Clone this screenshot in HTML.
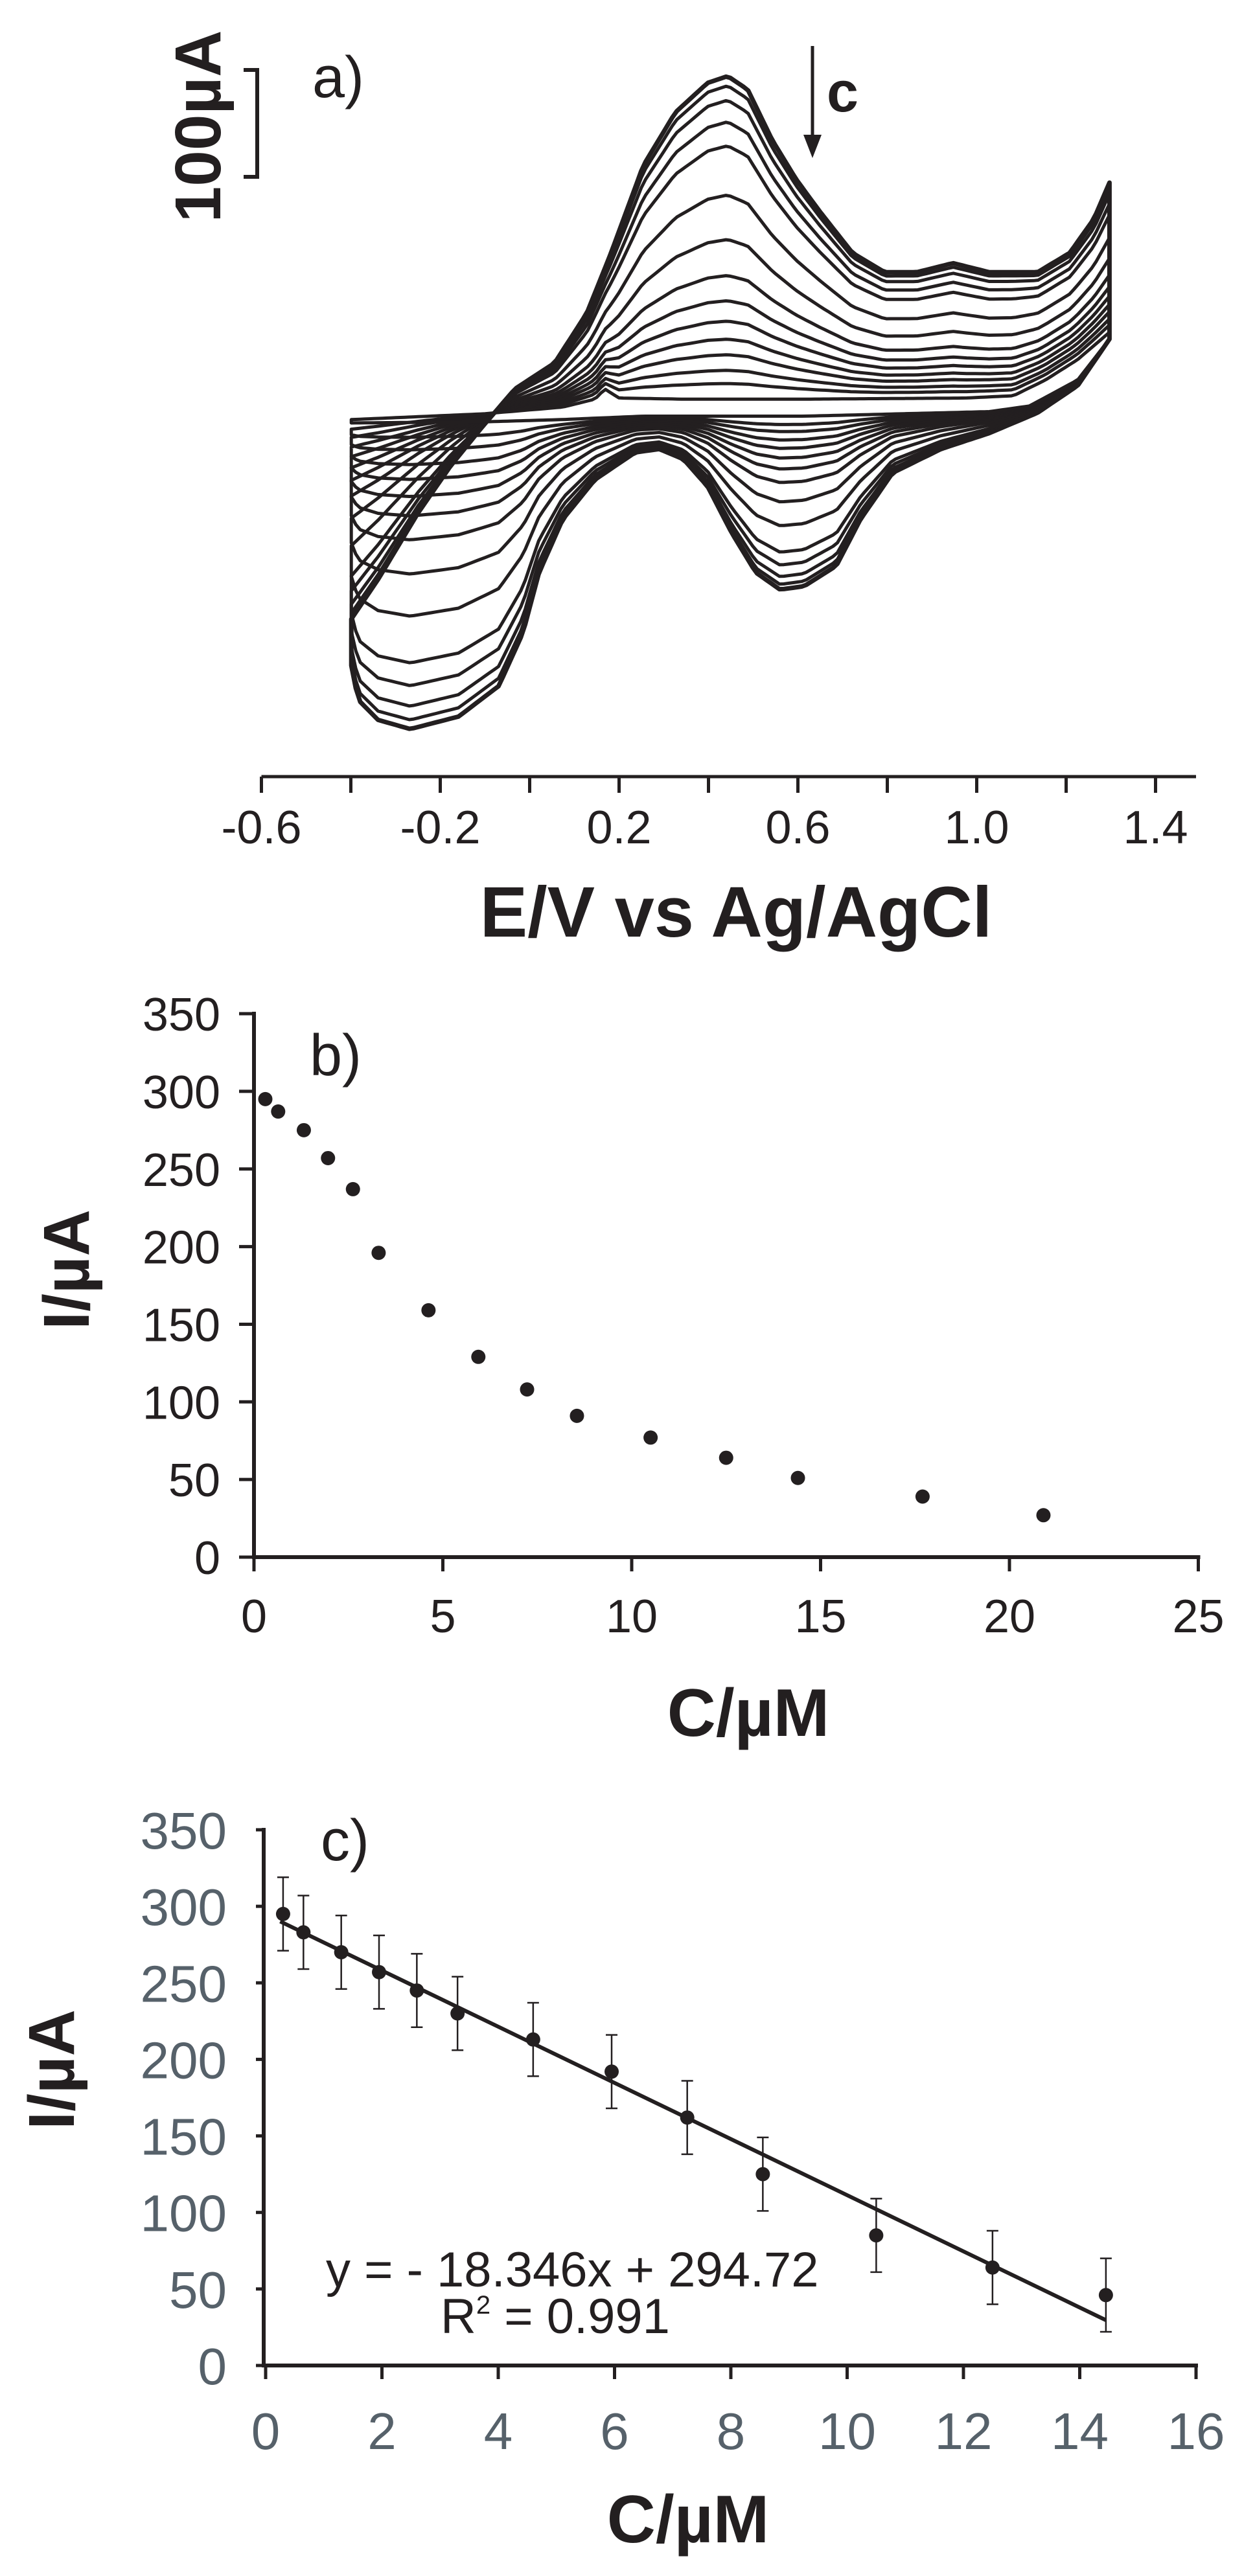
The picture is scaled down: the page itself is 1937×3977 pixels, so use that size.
<!DOCTYPE html>
<html><head><meta charset="utf-8"><style>
html,body{margin:0;padding:0;background:#fff;}
svg{display:block;}
text{font-family:"Liberation Sans",Arial,sans-serif;}
</style></head><body>
<svg id="fig" xmlns="http://www.w3.org/2000/svg" width="1937" height="3977" viewBox="0 0 1937 3977">
  <!-- Panel a static -->
  <g id="panelA">
    <g stroke="#231f20" stroke-width="6" fill="none">
      <path d="M376 108 H397 V273 H376"/>
    </g>
    <text x="340" y="195" font-size="100" font-weight="bold" text-anchor="middle" transform="rotate(-90 340 195)" fill="#231f20">100µA</text>
    <text x="482" y="150" font-size="90" fill="#231f20">a)</text>
    <g>
      <line x1="1254" y1="71" x2="1254" y2="215" stroke="#231f20" stroke-width="5"/>
      <path d="M1240 208 L1268 208 L1254 244 Z" fill="#231f20"/>
    </g>
    <text x="1276" y="172" font-size="88" font-weight="bold" fill="#231f20">c</text>
    <text x="1136" y="1446" font-size="110" font-weight="bold" text-anchor="middle" fill="#231f20">E/V vs Ag/AgCl</text>
  </g>
  <g id="panelB">
    <text x="478" y="1660" font-size="90" fill="#231f20">b)</text>
    <text x="137" y="1960" font-size="100" font-weight="bold" text-anchor="middle" transform="rotate(-90 137 1960)" fill="#231f20">I/µA</text>
    <text x="1155" y="2680" font-size="104" font-weight="bold" text-anchor="middle" fill="#231f20">C/µM</text>
  </g>
  <g id="panelC">
    <text x="495" y="2872" font-size="90" fill="#231f20">c)</text>
    <text x="114" y="3195" font-size="100" font-weight="bold" text-anchor="middle" transform="rotate(-90 114 3195)" fill="#231f20">I/µA</text>
    <text x="1062" y="3925" font-size="104" font-weight="bold" text-anchor="middle" fill="#231f20">C/µM</text>
    <text x="503" y="3530" font-size="76" fill="#231f20">y = - 18.346x + 294.72</text>
    <text x="680" y="3602" font-size="76" fill="#231f20">R<tspan font-size="40" dy="-30">2</tspan><tspan dy="30"> = 0.991</tspan></text>
  </g>
</svg>
<script>
// ---------- Panel a data ----------
const cvTopOuterE = [-0.399,-0.339,-0.249,-0.177,-0.105,-0.033,0.056,0.128,0.182,0.254,0.326,0.398,0.443,0.488,0.542,0.596,0.650,0.722,0.794,0.866,0.947,1.028,1.136,1.208,1.262,1.297];
const cvTopOuterI = [-185,-150,-91,-50,-15,18,41,85,138,215,262,288,294,282,238,203,174,138,121,121,129,121,121,138,168,200];
const cvBotOuterE = [1.297,1.226,1.136,1.028,0.920,0.812,0.740,0.686,0.614,0.560,0.506,0.452,0.398,0.344,0.290,0.236,0.146,0.074,0.021,-0.015,-0.069,-0.159,-0.267,-0.339,-0.384,-0.399];
const cvBotOuterI = [62,21,-3,-21,-35,-56,-97,-138,-156,-159,-144,-109,-68,-44,-35,-38,-62,-97,-144,-197,-244,-271,-282,-274,-256,-226];
const cvTopInnerE = [-0.399,-0.105,0.074,0.146,0.168,0.200,0.344,0.614,0.974,1.082,1.154,1.226,1.297];
const cvTopInnerI = [-9,-4,2,9,18,10,9,9,10,12,26,44,68];
const cvBotInnerE = [1.297,1.226,1.118,1.028,0.614,0.254,0.074,-0.105,-0.399];
const cvBotInnerI = [62,26,3,-2,-6,-6,-9,-11,-12];
const cvPeakCurrents = [295,287,275,257,237,196,159,129,108,91,76,63,50,39,26];
const cvTicks = [-0.6,-0.4,-0.2,0,0.2,0.4,0.6,0.8,1.0,1.2,1.4];
const cvTickLabels = ["-0.6","-0.2","0.2","0.6","1.0","1.4"];
const cvTickLabelValues = [-0.6,-0.2,0.2,0.6,1.0,1.4];

// ---------- Panel b data ----------
const bConc = [0.3,0.64,1.32,1.96,2.62,3.3,4.62,5.94,7.23,8.55,10.5,12.5,14.4,17.7,20.9];
const bCurrent = [295,287,275,257,237,196,159,129,108,91,77,64,51,39,27];
const bYTicks = [0,50,100,150,200,250,300,350];
const bXTicks = [0,5,10,15,20,25];

// ---------- Panel c data ----------
const cConc = [0.3,0.65,1.3,1.95,2.6,3.3,4.6,5.95,7.25,8.55,10.5,12.5,14.45];
const cCurrent = [295,283,270,257,245,230,213,192,162,125,85,64,46];
const cError = [24,24,24,24,24,24,24,24,24,24,24,24,24];
const cSlope = -18.346;
const cIntercept = 294.72;
const cYTicks = [0,50,100,150,200,250,300,350];
const cXTicks = [0,2,4,6,8,10,12,14,16];

const NS = "http://www.w3.org/2000/svg";
const INK = "#231f20";
function mk(tag, attrs, parent){
  const e = document.createElementNS(NS, tag);
  for (const k in attrs) e.setAttribute(k, attrs[k]);
  parent.appendChild(e);
  return e;
}
function interp(xs, ys, x){
  // xs ascending
  if (x <= xs[0]) return ys[0];
  for (let i=1;i<xs.length;i++){
    if (x <= xs[i]){ const t=(x-xs[i-1])/(xs[i]-xs[i-1]); return ys[i-1]+t*(ys[i]-ys[i-1]); }
  }
  return ys[ys.length-1];
}

// ---------- Panel a ----------
(function(){
  const g = document.getElementById('panelA');
  const xA = e => 403.5 + (e + 0.6) * 690;
  const yA = i => 632 - i * 1.75;
  const axis = mk('line', {x1:403.5, y1:1199, x2:1846, y2:1199, stroke:INK, 'stroke-width':5}, g);
  
  
  cvTicks.forEach(v => {
    const t = mk('line', {x1:xA(v), y1:1199, x2:xA(v), y2:1224, stroke:INK, 'stroke-width':5}, g);
    
    
  });
  cvTickLabelValues.forEach((v, k) => {
    const t = mk('text', {x:xA(v), y:1302, 'font-size':72, 'text-anchor':'middle', fill:INK}, g);
    t.textContent = cvTickLabels[k];
    
    
  });
  const rev = a => a.slice().reverse();
  const boE = rev(cvBotOuterE), boI = rev(cvBotOuterI);
  const biE = rev(cvBotInnerE), biI = rev(cvBotInnerI);
  const e0 = -0.399, e1 = 1.297, steps = 170;
  const maxP = Math.max(...cvPeakCurrents), minP = Math.min(...cvPeakCurrents);
  cvPeakCurrents.forEach((p, k) => {
    const w = (p - minP) / (maxP - minP);
    let d = '';
    for (let s=0; s<=steps; s++){
      const e = e0 + (e1-e0)*s/steps;
      const i = interp(cvTopInnerE, cvTopInnerI, e) + w*(interp(cvTopOuterE, cvTopOuterI, e) - interp(cvTopInnerE, cvTopInnerI, e));
      d += (s===0?'M':'L') + xA(e).toFixed(1) + ' ' + yA(i).toFixed(1) + ' ';
    }
    for (let s=steps; s>=0; s--){
      const e = e0 + (e1-e0)*s/steps;
      const i = interp(biE, biI, e) + w*(interp(boE, boI, e) - interp(biE, biI, e));
      d += 'L' + xA(e).toFixed(1) + ' ' + yA(i).toFixed(1) + ' ';
    }
    d += 'Z';
    const path = mk('path', {d:d, fill:'none', stroke:INK, 'stroke-width': k===0?7:5, 'stroke-linejoin':'round'}, g);
    
    
  });
})();

// ---------- Panel b ----------
(function(){
  const g = document.getElementById('panelB');
  const xB = c => 392 + c * 58.3;
  const yB = v => 2404 - v * 2.397;
  const ya = mk('line', {x1:392, y1:yB(350)-3, x2:392, y2:2406, stroke:INK, 'stroke-width':6}, g);
  
  
  const xa = mk('line', {x1:389, y1:2404, x2:xB(25)+3, y2:2404, stroke:INK, 'stroke-width':6}, g);
  
  
  bYTicks.forEach(v => {
    const t = mk('line', {x1:369, y1:yB(v), x2:392, y2:yB(v), stroke:INK, 'stroke-width':5}, g);
    
    
    const l = mk('text', {x:340, y:yB(v)+26, 'font-size':72, 'text-anchor':'end', fill:INK}, g);
    l.textContent = String(v);
    
    
  });
  bXTicks.forEach(v => {
    const t = mk('line', {x1:xB(v), y1:2404, x2:xB(v), y2:2426, stroke:INK, 'stroke-width':5}, g);
    
    
    const l = mk('text', {x:xB(v), y:2520, 'font-size':72, 'text-anchor':'middle', fill:INK}, g);
    l.textContent = String(v);
    
    
  });
  bConc.forEach((c, k) => {
    const p = mk('circle', {cx:xB(c), cy:yB(bCurrent[k]), r:11, fill:INK}, g);
    
    
  });
})();

// ---------- Panel c ----------
(function(){
  const g = document.getElementById('panelC');
  const GRAY = '#56616a';
  const xC = c => 410 + c * 89.75;
  const yC = v => 3652 - v * 2.363;
  const ya = mk('line', {x1:407, y1:yC(350)-3, x2:407, y2:3655, stroke:INK, 'stroke-width':6}, g);
  
  
  const xa = mk('line', {x1:404, y1:3652, x2:xC(16)+3, y2:3652, stroke:INK, 'stroke-width':6}, g);
  
  
  cYTicks.forEach(v => {
    const t = mk('line', {x1:395, y1:yC(v), x2:407, y2:yC(v), stroke:INK, 'stroke-width':5}, g);
    
    
    const l = mk('text', {x:350, y:yC(v)+29, 'font-size':80, 'text-anchor':'end', fill:GRAY}, g);
    l.textContent = String(v);
    
    
  });
  cXTicks.forEach(v => {
    const t = mk('line', {x1:xC(v), y1:3652, x2:xC(v), y2:3673, stroke:INK, 'stroke-width':5}, g);
    
    
    const l = mk('text', {x:xC(v), y:3781, 'font-size':80, 'text-anchor':'middle', fill:GRAY}, g);
    l.textContent = String(v);
    
    
  });
  const xs = cConc[0] - 0.05, xe = cConc[cConc.length-1];
  const fit = mk('line', {x1:xC(xs), y1:yC(cSlope*xs+cIntercept), x2:xC(xe), y2:yC(cSlope*xe+cIntercept), stroke:INK, 'stroke-width':6}, g);
  
  
  cConc.forEach((c, k) => {
    const x = xC(c), yt = yC(cCurrent[k]+cError[k]), yb = yC(cCurrent[k]-cError[k]);
    const eb = mk('path', {d:`M${x} ${yt} V${yb} M${x-9} ${yt} H${x+9} M${x-9} ${yb} H${x+9}`, stroke:INK, 'stroke-width':2.5, fill:'none'}, g);
    
    
    const p = mk('circle', {cx:x, cy:yC(cCurrent[k]), r:11, fill:INK}, g);
    
    
  });
})();
</script>
</body></html>
